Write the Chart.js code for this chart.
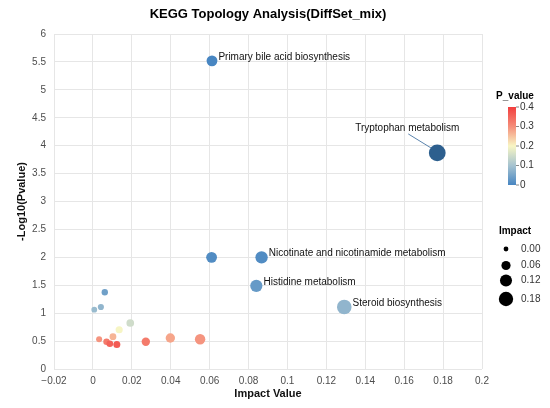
<!DOCTYPE html>
<html>
<head>
<meta charset="utf-8">
<script src="https://cdn.jsdelivr.net/npm/chart.js@4.4.0/dist/chart.umd.min.js"></script>
<style>
  body { margin: 0; background: #fff; }
  #wrap { width: 550px; height: 408px; }
</style>
</head>
<body>
<div id="wrap"><canvas id="myChart" width="550" height="408"></canvas></div>
<script>
// pathway data
var pathways = ['Primary bile acid biosynthesis', 'Tryptophan metabolism', 'Nicotinate and nicotinamide metabolism', '',
    'Histidine metabolism', 'Steroid biosynthesis', '', '', '', '', '', '', '', '', '', '', '', '', ''];
var impact = [0.0612, 0.177, 0.0867, 0.061, 0.084, 0.1292, 0.0061, 0.0041, 0.0007, 0.0192, 0.0135,
    0.0103, 0.0032, 0.0070, 0.0087, 0.0123, 0.0272, 0.0398, 0.0551];
var logP = [5.52, 3.87, 2.0, 2.0, 1.49, 1.11, 1.375, 1.11, 1.063, 0.824, 0.704,
    0.579, 0.532, 0.489, 0.452, 0.439, 0.489, 0.556, 0.532];

var xTickLabels = ['\u22120.02', '0', '0.02', '0.04', '0.06', '0.08', '0.1', '0.12', '0.14', '0.16', '0.18', '0.2'];
var yTickLabels = ['0', '0.5', '1', '1.5', '2', '2.5', '3', '3.5', '4', '4.5', '5', '5.5', '6'];
var pTicks = [0, 0.1, 0.2, 0.3, 0.4];
var impactTicks = [0.00, 0.06, 0.12, 0.18];
var highlight = 'Tryptophan metabolism';

var FONT = '"Liberation Sans", Arial, Helvetica, sans-serif';
Chart.defaults.font.family = FONT;

var stops = [[0, [72, 134, 194]], [0.1, [166, 195, 208]], [0.2, [248, 246, 196]], [0.3, [245, 142, 122]], [0.4, [242, 62, 62]]];

function colorOf(p) {
    if (p <= 0) return 'rgb(' + stops[0][1].join(',') + ')';
    for (var i = 1; i < stops.length; i++) {
        if (p <= stops[i][0]) {
            var a = stops[i - 1], b = stops[i];
            var t = (p - a[0]) / (b[0] - a[0]);
            var c = a[1].map(function (v, k) { return Math.round(v + (b[1][k] - v) * t); });
            return 'rgb(' + c.join(',') + ')';
        }
    }
    return 'rgb(' + stops[stops.length - 1][1].join(',') + ')';
}

function radiusOf(v) {
    return Math.sqrt(8 + 350 * v);
}

var points = impact.map(function (v, i) {
    return { x: v, y: logP[i], r: radiusOf(v) };
});
var colors = logP.map(function (v, i) {
    return pathways[i] === highlight ? '#2d5f8e' : colorOf(Math.pow(10, -v));
});

var extras = {
    id: 'extras',
    afterDatasetsDraw: function (chart) {
        var c = chart.ctx;
        var xs = chart.scales.x, ys = chart.scales.y;
        c.save();
        // main title
        c.fillStyle = '#000';
        c.font = 'bold 13px ' + FONT;
        c.textAlign = 'center';
        c.textBaseline = 'middle';
        c.fillText('KEGG Topology Analysis(DiffSet_mix)', (chart.chartArea.left + chart.chartArea.right) / 2, 14);

        // point labels
        c.font = '10px ' + FONT;
        pathways.forEach(function (name, i) {
            if (!name) return;
            var px = xs.getPixelForValue(impact[i]);
            var py = ys.getPixelForValue(logP[i]);
            var r = radiusOf(impact[i]);
            if (name === highlight) {
                c.strokeStyle = '#5b84ad';
                c.lineWidth = 1;
                c.beginPath();
                c.moveTo(px - 29, py - 19);
                c.lineTo(px - r * 0.75, py - r * 0.6);
                c.stroke();
                c.fillStyle = '#111';
                c.textAlign = 'center';
                c.fillText(name, px - 30, py - 25);
            } else {
                c.fillStyle = '#111';
                c.textAlign = 'left';
                c.fillText(name, px + r + 1, py - 4);
            }
        });

        // P_value colour bar
        var bx = 508, bTop = 107, bBot = 185, bw = 8;
        c.fillStyle = '#000';
        c.font = 'bold 10px ' + FONT;
        c.textAlign = 'center';
        c.fillText('P_value', 515, 96);
        var g = c.createLinearGradient(0, bBot, 0, bTop);
        stops.forEach(function (s) {
            g.addColorStop(s[0] / 0.4, 'rgb(' + s[1].join(',') + ')');
        });
        c.fillStyle = g;
        c.fillRect(bx, bTop, bw, bBot - bTop);
        c.font = '10px ' + FONT;
        c.textAlign = 'left';
        c.strokeStyle = '#888';
        pTicks.forEach(function (p) {
            var ty = bBot - (p / 0.4) * (bBot - bTop);
            c.beginPath();
            c.moveTo(bx + bw, ty);
            c.lineTo(bx + bw + 3, ty);
            c.stroke();
            c.fillStyle = '#333';
            c.fillText(String(p), bx + bw + 4, ty);
        });

        // Impact size legend
        c.fillStyle = '#000';
        c.font = 'bold 10px ' + FONT;
        c.textAlign = 'center';
        c.fillText('Impact', 515, 231);
        var ly = [249, 265.5, 280.5, 299];
        c.font = '10px ' + FONT;
        impactTicks.forEach(function (v, i) {
            c.fillStyle = '#000';
            c.beginPath();
            c.arc(506, ly[i], radiusOf(v) * 0.85, 0, Math.PI * 2);
            c.fill();
            c.fillStyle = '#333';
            c.textAlign = 'left';
            c.fillText(v.toFixed(2), 521, ly[i]);
        });
        c.restore();
    }
};

var ctx = document.getElementById('myChart').getContext('2d');
var topoChart = new Chart(ctx, {
    type: 'bubble',
    data: {
        datasets: [{
            label: 'Pathways',
            data: points,
            backgroundColor: colors,
            borderWidth: 0,
            hoverRadius: 0
        }]
    },
    options: {
        responsive: false,
        animation: false,
        layout: { padding: { top: 34, right: 68, left: 0, bottom: 0 } },
        scales: {
            x: {
                type: 'linear',
                min: -0.02,
                max: 0.2,
                ticks: {
                    stepSize: 0.02,
                    padding: 6,
                    color: '#4d4d4d',
                    font: { size: 10 },
                    callback: function (value, index) { return xTickLabels[index]; }
                },
                grid: { color: '#e6e6e6', drawTicks: false },
                border: { display: false },
                title: {
                    display: true,
                    text: 'Impact Value',
                    color: '#111',
                    font: { size: 11, weight: 'bold' },
                    padding: { top: 0, bottom: 7 }
                },
                afterFit: function (scale) { scale.height = 39; }
            },
            y: {
                min: 0,
                max: 6,
                ticks: {
                    stepSize: 0.5,
                    padding: 8,
                    color: '#4d4d4d',
                    font: { size: 10 },
                    callback: function (value, index) { return yTickLabels[index]; }
                },
                grid: { color: '#e6e6e6', drawTicks: false },
                border: { display: false },
                title: {
                    display: true,
                    text: '-Log10(Pvalue)',
                    color: '#111',
                    font: { size: 11, weight: 'bold' },
                    padding: { top: 15, bottom: 0 }
                },
                afterFit: function (scale) { scale.width = 54; }
            }
        },
        plugins: {
            legend: { display: false },
            tooltip: { enabled: false }
        }
    },
    plugins: [extras]
});
</script>
</body>
</html>
